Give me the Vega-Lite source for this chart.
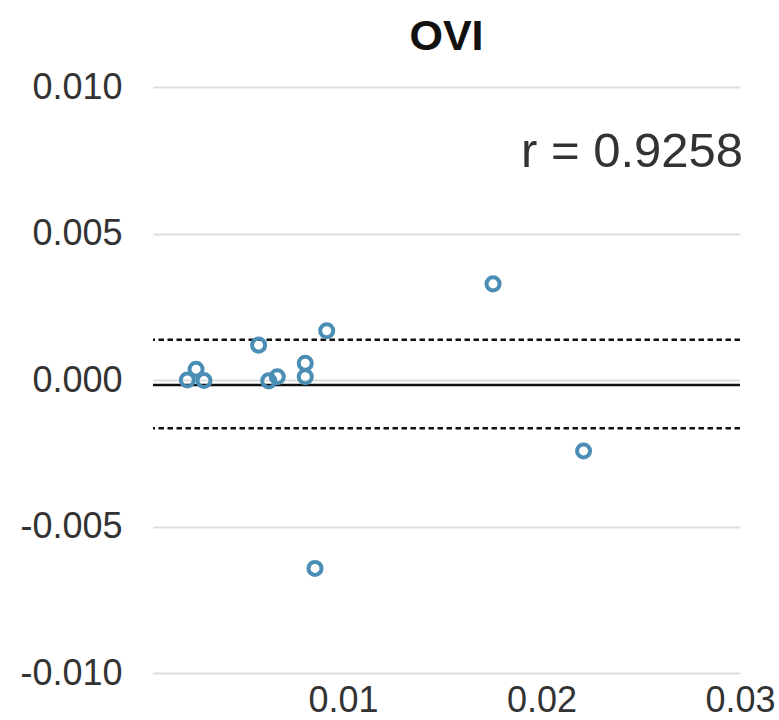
{
  "$schema": "https://vega.github.io/schema/vega-lite/v6.json",
  "width": 587,
  "height": 586,
  "autosize": {"type": "none"},
  "padding": {"left": 153, "top": 87, "right": 39, "bottom": 47},
  "background": "white",
  "title": {"text": "OVI", "fontSize": 43, "fontWeight": "bold", "font": "Liberation Sans", "color": "#111", "anchor": "middle", "offset": 10},
  "config": {"view": {"stroke": null}},
  "datasets": {
    "points": [
      {"x": 0.00216, "y": 0.0000},
      {"x": 0.00260, "y": 0.00037},
      {"x": 0.00300, "y": -0.00002},
      {"x": 0.00575, "y": 0.00119},
      {"x": 0.00626, "y": -0.00003},
      {"x": 0.00669, "y": 0.00011},
      {"x": 0.00810, "y": 0.00057},
      {"x": 0.00810, "y": 0.00011},
      {"x": 0.00918, "y": 0.00168},
      {"x": 0.01756, "y": 0.00328},
      {"x": 0.02212, "y": -0.00242},
      {"x": 0.00859, "y": -0.00643}
    ],
    "lines": [
      {"y": -0.00017, "kind": "mean"},
      {"y": 0.00137, "kind": "limit"},
      {"y": -0.00165, "kind": "limit"}
    ],
    "label": [
      {"x": 0.03, "y": 0.00727, "text": "r = 0.9258"}
    ]
  },
  "layer": [
    {
      "data": {"name": "lines"},
      "transform": [{"filter": "datum.kind == 'limit'"}],
      "mark": {"type": "rule", "color": "#111", "strokeWidth": 2.5, "strokeDash": [5.5, 3.5]},
      "encoding": {"y": {"field": "y", "type": "quantitative", "scale": {"domain": [-0.01, 0.01]}}}
    },
    {
      "data": {"name": "lines"},
      "transform": [{"filter": "datum.kind == 'mean'"}],
      "mark": {"type": "rule", "color": "#111", "strokeWidth": 2.5},
      "encoding": {"y": {"field": "y", "type": "quantitative"}}
    },
    {
      "data": {"name": "points"},
      "mark": {"type": "point", "shape": "circle", "filled": false, "size": 170, "strokeWidth": 4, "color": "#4a8db5", "opacity": 1},
      "encoding": {
        "x": {
          "field": "x", "type": "quantitative",
          "scale": {"domain": [0.00043, 0.03], "nice": false, "zero": false},
          "axis": {"title": null, "values": [0.01, 0.02, 0.03], "format": ".2f", "grid": false, "domain": false, "ticks": false, "labelFontSize": 36, "labelFont": "Liberation Sans", "labelColor": "#333", "labelPadding": 10, "labelFlush": false}
        },
        "y": {
          "field": "y", "type": "quantitative",
          "scale": {"domain": [-0.01, 0.01], "nice": false},
          "axis": {"title": null, "values": [-0.01, -0.005, 0, 0.005, 0.01], "labelExpr": "replace(format(datum.value, '.3f'), '−', '-')", "grid": true, "gridColor": "#dddddd", "gridWidth": 2, "domain": false, "ticks": false, "labelFontSize": 36, "labelFont": "Liberation Sans", "labelColor": "#333", "labelPadding": 31}
        }
      }
    },
    {
      "data": {"name": "label"},
      "mark": {"type": "text", "align": "right", "baseline": "alphabetic", "fontSize": 49, "font": "Liberation Sans", "color": "#333", "dx": 3},
      "encoding": {
        "x": {"field": "x", "type": "quantitative"},
        "y": {"field": "y", "type": "quantitative"},
        "text": {"field": "text"}
      }
    }
  ]
}
